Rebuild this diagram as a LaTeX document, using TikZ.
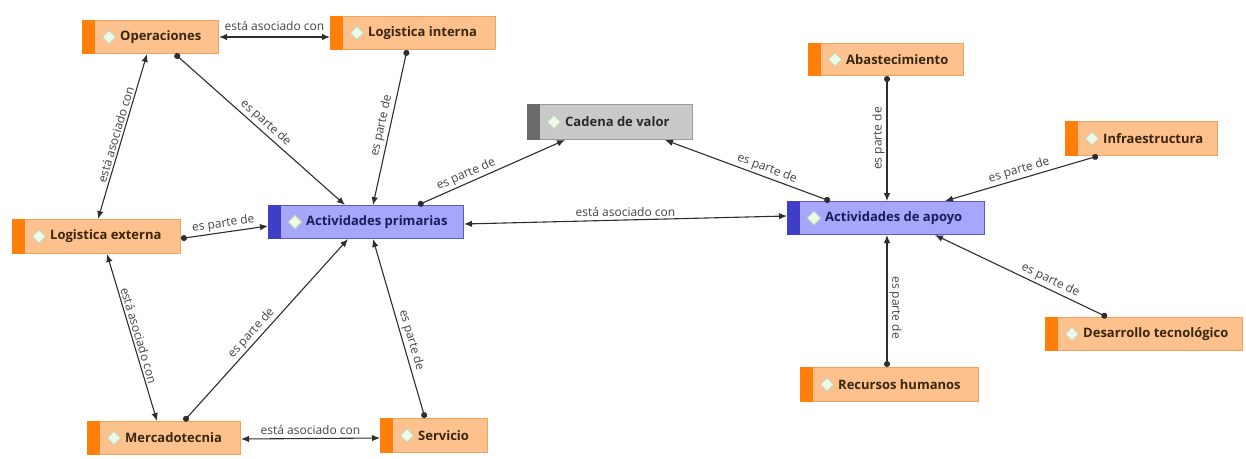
\documentclass[tikz,border=0pt]{standalone}
\usepackage{fontspec}
\setmainfont{Open Sans}
\usetikzlibrary{arrows.meta,calc,shapes.geometric}
\definecolor{ofill}{HTML}{FCC18C}
\definecolor{oborder}{HTML}{F2A25A}
\definecolor{ostripe}{HTML}{FF7F0A}
\definecolor{otext}{HTML}{3A2610}
\definecolor{bfill}{HTML}{A6A6FB}
\definecolor{bborder}{HTML}{5A5AD2}
\definecolor{bstripe}{HTML}{3E3EC6}
\definecolor{btext}{HTML}{1C1C5C}
\definecolor{gfill}{HTML}{C9C9C9}
\definecolor{gborder}{HTML}{9A9A9A}
\definecolor{gstripe}{HTML}{6A6A6A}
\definecolor{gtext}{HTML}{2A2A2A}
\definecolor{iconfill}{HTML}{EEFAE6}
\definecolor{iconborder}{HTML}{C4D4BC}
\definecolor{linecol}{HTML}{2E2E2E}
\definecolor{lblcol}{HTML}{444444}
\newcommand\cmbox[7]{%
  \node[box #2, minimum width=#5pt, minimum height=#6pt, anchor=north west] (#1) at (#3,#4) {};
  \fill[#2stripe] (#1.north west) rectangle ([xshift=13pt]#1.south west);
  \node[icon] (#1-i) at ([xshift=27pt]#1.west) {};
  \node[txt, text=#2text, anchor=west] (#1-t) at ([xshift=38pt]#1.west) {#7};
}
\begin{document}
\begin{tikzpicture}[x=1pt,y=-1pt,
  box o/.style={rectangle, fill=ofill, draw=oborder, line width=1pt, inner sep=0pt},
  box b/.style={rectangle, fill=bfill, draw=bborder, line width=1pt, inner sep=0pt},
  box g/.style={rectangle, fill=gfill, draw=gborder, line width=1pt, inner sep=0pt},
  icon/.style={diamond, minimum size=14pt, inner sep=0pt, fill=iconfill, draw=iconborder, line width=0.9pt},
  txt/.style={font=\fontsize{13}{15}\selectfont\bfseries, inner sep=0pt},
  conn/.style={draw=linecol, line width=1.1pt, {Circle[length=6pt]}-{Latex[length=8pt,width=6.5pt]}},
  assoc/.style={draw=linecol, line width=1.1pt, {Latex[length=8pt,width=6.5pt]}-{Latex[length=8pt,width=6.5pt]}},
  lbl/.style={font=\fontsize{12}{14}\selectfont, text=lblcol, inner sep=2pt}
]
\useasboundingbox[fill=white] (0,0) rectangle (1246,458);

\cmbox{op}{o}{82}{20}{136}{33}{Operaciones}
\cmbox{li}{o}{330}{16}{165}{33}{Logistica interna}
\cmbox{cv}{g}{527}{104}{165}{35}{Cadena de valor}
\cmbox{ap}{b}{268}{205}{195}{33}{Actividades primarias}
\cmbox{aa}{b}{787}{201}{197}{33}{Actividades de apoyo}
\cmbox{le}{o}{12}{219}{168}{34}{Logistica externa}
\cmbox{me}{o}{87}{421}{153}{33}{Mercadotecnia}
\cmbox{se}{o}{380}{418}{107}{34}{Servicio}
\cmbox{ab}{o}{808}{43}{155}{32}{Abastecimiento}
\cmbox{in}{o}{1065}{121}{152}{34}{Infraestructura}
\cmbox{dt}{o}{1045}{317}{197}{33}{Desarrollo tecnológico}
\cmbox{rh}{o}{800}{367}{178}{34}{Recursos humanos}

% es parte de
\draw[conn] ([xshift=93pt]op.south west) -- node[lbl, sloped, above] (l1) {es parte de} ([xshift=77pt]ap.north west);
\draw[conn] ([xshift=77pt]li.south west) -- node[lbl, sloped, above] (l2) {es parte de} ([xshift=105pt]ap.north west);
\draw[conn] ([xshift=150pt]ap.north west) -- node[lbl, sloped, above, pos=0.35] (l3) {es parte de} ([xshift=38pt]cv.south west);
\draw[conn] ([xshift=43pt]aa.north west) -- node[lbl, sloped, above, pos=0.4] (l4) {es parte de} ([xshift=138pt]cv.south west);
\draw[conn] ([yshift=-2pt]le.east) -- node[lbl, sloped, above] (l5) {es parte de} ([yshift=-4pt]ap.west);
\draw[conn] ([xshift=97pt]me.north west) -- node[lbl, sloped, above, pos=0.45] (l6) {es parte de} ([xshift=80pt]ap.south west);
\draw[conn] ([xshift=45pt]se.north west) -- node[lbl, sloped, above, pos=0.42] (l7) {es parte de} ([xshift=105pt]ap.south west);
\draw[conn] ([xshift=79pt]ab.south west) -- node[lbl, rotate=90, anchor=south] (l8) {es parte de} ([xshift=100pt]aa.north west);
\draw[conn] ([xshift=33pt]in.south west) -- node[lbl, sloped, above] (l9) {es parte de} ([xshift=158pt]aa.north west);
\draw[conn] ([xshift=62pt]dt.north west) -- node[lbl, sloped, above, pos=0.35] (l10) {es parte de} ([xshift=148pt]aa.south west);
\draw[conn] ([xshift=87pt]rh.north west) -- node[lbl, rotate=-90, anchor=south, pos=0.45] (l11) {es parte de} ([xshift=100pt]aa.south west);

% está asociado con
\draw[assoc] (op.east) -- node[lbl, above, yshift=4pt] (a1) {está asociado con} (op.east -| li.west);
\draw[assoc] ([yshift=-2pt]ap.east) -- node[lbl, above, yshift=1pt] (a2) {está asociado con} ([yshift=2pt]aa.west);
\draw[assoc] ([xshift=65pt]op.south west) -- node[lbl, sloped, above] (a3) {está asociado con} ([xshift=86pt]le.north west);
\draw[assoc] ([xshift=95pt]le.south west) -- node[lbl, sloped, above] (a4) {está asociado con} ([xshift=70pt]me.north west);
\draw[assoc] ([yshift=-1pt]me.east) -- node[lbl, above, yshift=1pt] (a5) {está asociado con} (me.east -| se.west);
\end{tikzpicture}
\end{document}
